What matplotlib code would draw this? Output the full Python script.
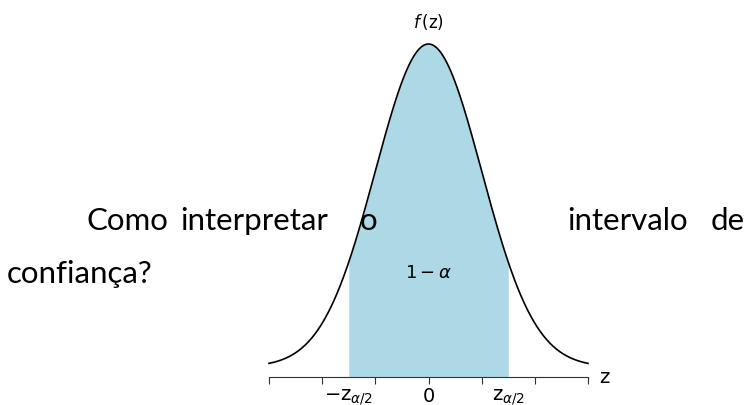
import matplotlib.pyplot as plt
import numpy as np

plt.rcParams['mathtext.fontset'] = 'dejavusans'

W, H = 748, 406

# standard normal density over the plotted range
z_lo, z_hi = -3.0, 3.0
tick_positions = [-3, -2, -1, 0, 1, 2, 3]
crit = 1.5
label_positions = [-crit, 0, crit]
tick_labels = [r'$-\mathrm{z}_{\alpha/2}$', '0', r'$\mathrm{z}_{\alpha/2}$']
label_drop = [22, 24, 22]  # baseline offset below the axis, in pixels
y_bottom = -0.0124

# paragraph words, placed as a justified line (left x, baseline y in pixels)
words = ['Como', 'interpretar', 'o', 'intervalo', 'de', 'confiança?']
word_x = [87, 180, 360, 567, 711, 7]
word_y = [230, 230, 230, 230, 230, 283]


def pdf(z):
    return np.exp(-z ** 2 / 2) / np.sqrt(2 * np.pi)


fig = plt.figure(figsize=(W / 100, H / 100), dpi=100)
ax = fig.add_axes([269 / W, (H - 378) / H, (588 - 269) / W, (378 - 45) / H])

z = np.linspace(z_lo, z_hi, 400)
zc = np.linspace(-crit, crit, 200)
ax.fill_between(zc, y_bottom, pdf(zc), color='#ADD8E6', lw=0)
ax.plot(z, pdf(z), color='black', lw=1.2, clip_on=False)

ax.set_xlim(z_lo, z_hi)
ax.set_ylim(y_bottom, pdf(0))
for s in ['top', 'right', 'left']:
    ax.spines[s].set_visible(False)
ax.spines['bottom'].set_color('#333333')
ax.spines['bottom'].set_linewidth(0.8)
ax.set_yticks([])
ax.set_xticks(tick_positions)
ax.set_xticklabels([])
ax.tick_params(axis='x', which='major', length=5, width=0.8, color='#333333')

# labels for the critical values, below the axis
for pos, lab, drop in zip(label_positions, tick_labels, label_drop):
    ax.annotate(lab, xy=(pos, 0), xycoords=('data', 'axes fraction'),
                xytext=(0, -drop * 0.72), textcoords='offset points',
                ha='center', va='baseline', fontsize=14)

ax.text(1.035, 0, 'z', transform=ax.transAxes, fontsize=14,
        ha='left', va='center')
ax.text(0, pdf(0) + 0.016, r'$f\,(\mathrm{z})$', fontsize=12,
        ha='center', va='bottom')
ax.text(0, 0.117, r'$1-\alpha$', fontsize=13, ha='center', va='center')

for w, x, y in zip(words, word_x, word_y):
    fig.text(x / W, 1 - y / H, w, family='Lato', fontsize=22.5,
             ha='left', va='baseline')

fig.savefig('out.png', dpi=100)
